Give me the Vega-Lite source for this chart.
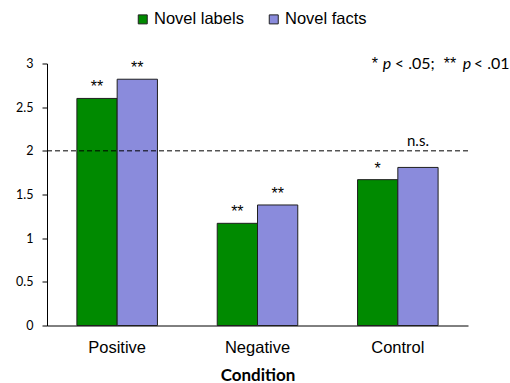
{
  "$schema": "https://vega.github.io/schema/vega-lite/v6.json",
  "width": 421,
  "height": 262,
  "autosize": "none",
  "padding": {"left": 47, "top": 63.5, "right": 42, "bottom": 57.5},
  "background": "white",
  "config": {"view": {"stroke": null}, "font": "Lato"},
  "datasets": {
    "bars": [
      {"condition": "Positive", "group": "Novel labels", "value": 2.6, "sig": "**"},
      {"condition": "Positive", "group": "Novel facts", "value": 2.82, "sig": "**"},
      {"condition": "Negative", "group": "Novel labels", "value": 1.17, "sig": "**"},
      {"condition": "Negative", "group": "Novel facts", "value": 1.38, "sig": "**"},
      {"condition": "Control", "group": "Novel labels", "value": 1.67, "sig": "*"},
      {"condition": "Control", "group": "Novel facts", "value": 1.81, "sig": ""}
    ],
    "ref": [{"value": 2}],
    "ns": [
      {"condition": "Control", "group": "Novel facts", "value": 2, "label": "n.s."}
    ],
    "note": [
      {"seq": 1, "t": "*"},
      {"seq": 2, "t": "p"},
      {"seq": 3, "t": "< .05;"},
      {"seq": 4, "t": "**"},
      {"seq": 5, "t": "p"},
      {"seq": 6, "t": "< .01"}
    ]
  },
  "layer": [
    {
      "data": {"name": "bars"},
      "mark": {"type": "bar", "stroke": "#1f1f1f", "strokeWidth": 1},
      "encoding": {
        "x": {
          "field": "condition", "type": "nominal",
          "sort": ["Positive", "Negative", "Control"],
          "scale": {"paddingInner": 0.426, "paddingOuter": 0.213},
          "axis": {
            "title": "Condition", "titleFont": "Lato", "titleFontWeight": "bold", "titleFontSize": 17,
            "titleColor": "#000", "titlePadding": 11,
            "labelFont": "Liberation Sans", "labelFontSize": 16.5, "labelColor": "#000",
            "labelAngle": 0, "labelPadding": 14, "ticks": false, "domainColor": "#000", "domainWidth": 1
          }
        },
        "xOffset": {"field": "group", "type": "nominal", "sort": ["Novel labels", "Novel facts"]},
        "y": {
          "field": "value", "type": "quantitative",
          "scale": {"domain": [0, 3], "nice": false},
          "axis": {
            "title": null, "values": [0, 0.5, 1, 1.5, 2, 2.5, 3], "format": "~g", "grid": false,
            "domainColor": "#000", "tickColor": "#000", "tickSize": 5, "labelPadding": 9,
            "labelFont": "Lato", "labelFontSize": 12.5, "labelColor": "#000"
          }
        },
        "color": {
          "field": "group", "type": "nominal",
          "scale": {"domain": ["Novel labels", "Novel facts"], "range": ["#008a00", "#8a8bdc"]},
          "legend": {
            "orient": "none", "legendX": 87.5, "legendY": -52.5, "direction": "horizontal", "title": null,
            "symbolType": "square", "symbolSize": 81, "symbolStrokeColor": "#222", "symbolStrokeWidth": 1,
            "symbolOpacity": 1, "labelFont": "Liberation Sans", "labelFontSize": 16.5, "labelColor": "#000",
            "labelOffset": 3, "columnPadding": 21, "padding": 0
          }
        }
      }
    },
    {
      "data": {"name": "bars"},
      "transform": [{"filter": "datum.sig != ''"}],
      "mark": {"type": "text", "font": "Liberation Sans", "fontSize": 16, "baseline": "alphabetic", "dy": -6, "color": "#000"},
      "encoding": {
        "x": {"field": "condition", "type": "nominal", "sort": ["Positive", "Negative", "Control"]},
        "xOffset": {"field": "group", "type": "nominal", "sort": ["Novel labels", "Novel facts"]},
        "y": {"field": "value", "type": "quantitative"},
        "text": {"field": "sig"}
      }
    },
    {
      "data": {"name": "ref"},
      "mark": {"type": "rule", "color": "#000", "strokeWidth": 1, "strokeDash": [5, 3]},
      "encoding": {"y": {"field": "value", "type": "quantitative"}}
    },
    {
      "data": {"name": "ns"},
      "mark": {"type": "text", "font": "Lato", "fontSize": 15, "baseline": "alphabetic", "dy": -5, "color": "#000"},
      "encoding": {
        "x": {"field": "condition", "type": "nominal", "sort": ["Positive", "Negative", "Control"]},
        "xOffset": {"field": "group", "type": "nominal", "sort": ["Novel labels", "Novel facts"]},
        "y": {"field": "value", "type": "quantitative"},
        "text": {"field": "label"}
      }
    },
    {
      "data": {"name": "note"},
      "transform": [{"filter": "datum.seq == 1"}],
      "mark": {"type": "text", "font": "Liberation Sans", "fontSize": 16, "align": "left", "baseline": "alphabetic", "dx": -26, "dy": 5, "color": "#000"},
      "encoding": {"x": {"datum": "Control"}, "y": {"datum": 3}, "text": {"field": "t"}}
    },
    {
      "data": {"name": "note"},
      "transform": [{"filter": "datum.seq == 2"}],
      "mark": {"type": "text", "font": "Lato", "fontSize": 16, "fontStyle": "italic", "align": "left", "baseline": "alphabetic", "dx": -15, "dy": 5, "color": "#000"},
      "encoding": {"x": {"datum": "Control"}, "y": {"datum": 3}, "text": {"field": "t"}}
    },
    {
      "data": {"name": "note"},
      "transform": [{"filter": "datum.seq == 3"}],
      "mark": {"type": "text", "font": "Lato", "fontSize": 16, "align": "left", "baseline": "alphabetic", "dx": -3, "dy": 5, "color": "#000"},
      "encoding": {"x": {"datum": "Control"}, "y": {"datum": 3}, "text": {"field": "t"}}
    },
    {
      "data": {"name": "note"},
      "transform": [{"filter": "datum.seq == 4"}],
      "mark": {"type": "text", "font": "Liberation Sans", "fontSize": 16, "align": "left", "baseline": "alphabetic", "dx": 46, "dy": 5, "color": "#000"},
      "encoding": {"x": {"datum": "Control"}, "y": {"datum": 3}, "text": {"field": "t"}}
    },
    {
      "data": {"name": "note"},
      "transform": [{"filter": "datum.seq == 5"}],
      "mark": {"type": "text", "font": "Lato", "fontSize": 16, "fontStyle": "italic", "align": "left", "baseline": "alphabetic", "dx": 65, "dy": 5, "color": "#000"},
      "encoding": {"x": {"datum": "Control"}, "y": {"datum": 3}, "text": {"field": "t"}}
    },
    {
      "data": {"name": "note"},
      "transform": [{"filter": "datum.seq == 6"}],
      "mark": {"type": "text", "font": "Lato", "fontSize": 16, "align": "left", "baseline": "alphabetic", "dx": 76, "dy": 5, "color": "#000"},
      "encoding": {"x": {"datum": "Control"}, "y": {"datum": 3}, "text": {"field": "t"}}
    }
  ]
}
